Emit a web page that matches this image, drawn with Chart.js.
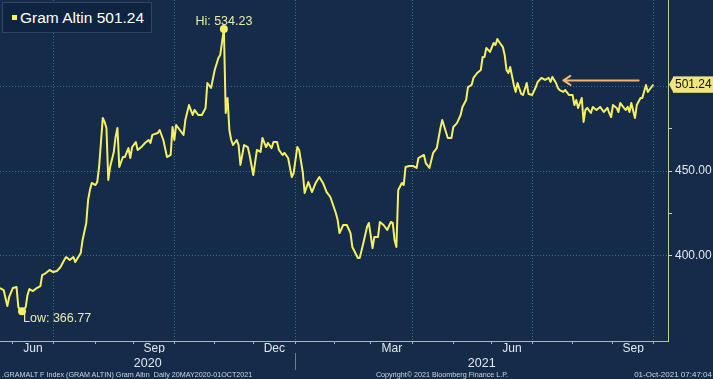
<!DOCTYPE html>
<html>
<head>
<meta charset="utf-8">
<script src="https://cdn.jsdelivr.net/npm/chart.js@4.4.0/dist/chart.umd.min.js"></script>
<style>
  html, body { margin:0; padding:0; background:#142b49; }
  #wrap { position:relative; width:713px; height:379px; overflow:hidden; background:#142b49; }
  #chart { position:absolute; left:0; top:0; }
  .legend { position:absolute; left:2px; top:2px; width:150px; height:31px; box-sizing:border-box;
    background:#0f2441; border:1px solid #2e4566; font:15.5px "Liberation Sans", Arial, sans-serif; color:#fff; }
  .legend .sw { position:absolute; left:9px; top:12px; width:5px; height:5px; background:#f6f060; }
  .legend .txt { position:absolute; left:17px; top:6px; white-space:nowrap; }
  .foot { position:absolute; top:370px; font:7.2px "Liberation Sans", Arial, sans-serif; color:#cdd5de; white-space:nowrap; line-height:10px; }
</style>
</head>
<body>
<div id="wrap">
  <canvas id="chart" width="713" height="379"></canvas>
  <div class="legend"><span class="sw"></span><span class="txt">Gram Altin 501.24</span></div>
  <div class="foot" style="left:2px">.GRAMALT F Index (GRAM ALTIN) Gram Altın&nbsp; Daily 20MAY2020-01OCT2021</div>
  <div class="foot" style="left:442px;transform:translateX(-50%)">Copyright© 2021 Bloomberg Finance L.P.</div>
  <div class="foot" style="right:1px;font-size:8px">01-Oct-2021 07:47:04</div>
</div>
<script>
// trading day number counted from 20 May 2020 (weekdays only)
const days = [1,3,5,6,8,10,11,12,13,15,16,17,19,21,23,24,26,28,30,32,34,36,37,39,41,42,45,46,48,49,50,51,53,54,55,57,58,59,60,61,63,64,65,66,68,69,71,72,73,75,76,78,80,82,83,84,87,88,90,92,94,95,96,97,99,101,102,104,106,107,109,111,113,114,116,118,120,121,123,124,125,126,127,128,130,131,132,134,136,137,139,141,143,144,146,147,149,150,152,153,155,156,158,160,161,163,164,166,167,169,171,173,175,177,179,181,184,185,186,188,190,192,193,196,197,199,201,202,204,205,207,208,210,212,214,215,216,217,218,220,221,222,224,226,228,229,232,233,235,237,239,241,242,244,245,247,248,250,252,253,255,256,258,259,261,263,264,265,266,268,270,271,272,273,275,276,277,278,279,281,282,283,285,286,288,289,291,293,294,296,298,300,301,302,304,305,306,308,309,311,313,314,315,316,318,319,320,321,323,324,326,328,330,332,333,334,335,337,338,339,341,342,343,344,345,347,348,350,351,353,354,356,357];
const prices = [380.6,379.4,369.9,375.3,380.6,381.2,369.3,367.6,366.77,369.3,376.5,380.0,378.8,380.6,381.8,388.3,389.5,391.3,390.1,390.7,393.1,397.2,399.0,397.2,399.0,396.0,401.4,409.1,419.2,432.8,438.7,442.9,441.7,443.5,452.4,481.4,479.1,475.5,444.7,452.4,461.3,470.2,475.5,452.4,458.3,458.3,463.6,457.7,464.2,467.2,462.5,464.2,466.6,468.4,466.6,471.4,472.5,474.3,468.4,458.3,459.5,476.1,468.4,477.3,474.3,471.4,480.2,489.1,483.2,486.2,483.2,483.2,487.4,502.2,499.2,509.9,517.0,518.8,534.23,484.4,493.3,474.0,468.4,465.4,468.4,465.4,453.6,465.4,464.2,459.5,447.6,462.5,461.3,469.6,464.2,466.6,463.6,467.2,467.2,462.5,459.5,460.7,457.7,446.4,448.8,464.2,462.5,449.1,437.0,443.5,437.5,442.9,446.4,442.9,437.5,434.6,425.1,420.9,413.2,418.0,418.0,413.2,404.9,398.4,398.4,407.3,416.8,419.2,404.3,410.9,410.9,419.8,418.0,415.0,419.8,419.2,409.1,404.9,438.7,442.9,441.7,452.4,453.0,453.0,451.8,457.7,459.5,454.7,451.8,460.7,463.6,475.5,480.2,473.1,469.6,469.6,476.1,478.4,483.2,488.0,492.1,499.8,501.0,505.2,508.1,509.9,517.6,517.6,523.0,520.6,525.9,524.7,528.3,526.5,523.5,518.8,509.9,508.1,511.7,501.0,496.9,502.2,495.7,495.1,502.2,495.7,495.1,499.8,502.8,505.2,504.0,505.2,502.8,505.8,502.2,499.2,498.0,496.9,498.0,495.1,495.1,489.1,492.1,487.4,493.3,479.1,486.2,487.4,484.4,488.0,486.2,488.0,485.0,487.4,484.4,482.0,489.1,487.4,485.0,490.3,487.4,486.2,488.0,485.0,490.3,481.4,489.1,493.3,493.3,501.0,496.9,499.8,501.24];

const monthStarts = ['2020-06-01','2020-07-01','2020-08-01','2020-09-01','2020-10-01','2020-11-01','2020-12-01',
  '2021-01-01','2021-02-01','2021-03-01','2021-04-01','2021-05-01','2021-06-01','2021-07-01','2021-08-01','2021-09-01','2021-10-01'];
const quarterStarts = ['2020-07-01','2020-10-01','2021-01-01','2021-04-01','2021-07-01','2021-10-01'];
const monthLabels = ['Jun','Sep','Dec','Mar','Jun','Sep'];
const labelMonths = ['2020-06','2020-09','2020-12','2021-03','2021-06','2021-09'];
const yearLabels = ['2020','2021'];
const yearBreak = '2021-01-01';

const yGridTicks = [400, 450, 500];
const yLabelTicks = [400, 450];
const yMinorTicks = [425, 475];
const xMin = 1, xMax = 365;
const yMin = 349.2, yMax = 551.4;

// orange arrow in the chart: [day, value]
const arrowFrom = [349, 503.7];
const arrowTo = [308, 503.7];

const lineColor = '#f6f060';
const gridColor = '#4a6585';
const textColor = '#e2e7ee';
const labelColor = '#ecebab';
const arrowColor = '#f4b474';
const tagColor = '#f1e57f';
const FONT = '"Liberation Sans", Arial, sans-serif';

function tradingIndex(iso){
  const start = Date.UTC(2020, 4, 20);
  const p = iso.split('-').map(Number);
  const end = Date.UTC(p[0], p[1]-1, p[2] || 1);
  let n = 0;
  for(let t=start; t<end; t+=86400000){
    const wd = new Date(t).getUTCDay();
    if(wd!==0 && wd!==6) n++;
  }
  return n;
}
function nextMonth(ym){
  const p = ym.split('-').map(Number);
  const y = p[1]===12 ? p[0]+1 : p[0];
  const m = p[1]===12 ? 1 : p[1]+1;
  return y + '-' + String(m).padStart(2,'0') + '-01';
}

const startIdx = monthStarts.map(tradingIndex);
const quarterIdx = quarterStarts.map(tradingIndex);
const labelMap = new Map();
labelMonths.forEach((ym,i)=>{
  const mid = (tradingIndex(ym+'-01') + tradingIndex(nextMonth(ym))) / 2;
  labelMap.set(mid, monthLabels[i]);
});
const breakIdx = tradingIndex(yearBreak);
const yearMap = new Map();
yearMap.set((xMin + breakIdx)/2, yearLabels[0]);
yearMap.set((breakIdx + xMax)/2, yearLabels[1]);

const lastValue = prices[prices.length-1];
let iMin = 0, iMax = 0;
prices.forEach((v,i)=>{ if(v<prices[iMin]) iMin=i; if(v>prices[iMax]) iMax=i; });
const marks = [{x:days[iMin], y:prices[iMin]}, {x:days[iMax], y:prices[iMax]}];
const lowLabel = 'Low: ' + prices[iMin].toFixed(2);
const hiLabel = 'Hi: ' + prices[iMax].toFixed(2);

const tagPad = {left:2, right:12, top:1, bottom:1};

const overlay = {
  id:'overlay',
  afterDatasetsDraw(chart){
    const {ctx, scales:{x, y}} = chart;
    const x1 = x.getPixelForValue(arrowFrom[0]), x2 = x.getPixelForValue(arrowTo[0]);
    const ay = y.getPixelForValue(arrowFrom[1]);
    ctx.save();
    ctx.strokeStyle = arrowColor; ctx.lineWidth = 2; ctx.lineCap = 'round'; ctx.lineJoin = 'round';
    ctx.beginPath();
    ctx.moveTo(x1, ay); ctx.lineTo(x2, ay);
    ctx.moveTo(x2+7, ay-4.5); ctx.lineTo(x2, ay); ctx.lineTo(x2+7, ay+4.5);
    ctx.stroke();
    const pts = chart.getDatasetMeta(1).data;
    ctx.font = '12.5px ' + FONT;
    ctx.fillStyle = labelColor;
    ctx.textBaseline = 'alphabetic';
    ctx.textAlign = 'center';
    ctx.fillText(hiLabel, pts[1].x, pts[1].y - 4);
    ctx.textAlign = 'left';
    ctx.fillText(lowLabel, pts[0].x + 1, pts[0].y + 11);
    ctx.restore();
  },
  afterDraw(chart){
    const {ctx, scales:{x, y, years}} = chart;
    // pointer of the last value tag
    const ty = y.getPixelForValue(lastValue);
    const bx = y.left + y.options.grid.tickLength + y.options.ticks.padding - tagPad.left;
    ctx.save();
    ctx.fillStyle = tagColor;
    ctx.beginPath();
    ctx.moveTo(y.left + 1, ty); ctx.lineTo(bx + 0.5, ty - 8.2); ctx.lineTo(bx + 0.5, ty + 8.2);
    ctx.closePath(); ctx.fill();
    // year separator
    const sx = Math.round(x.getPixelForValue(breakIdx)) + 0.5;
    ctx.strokeStyle = '#6c7d94'; ctx.lineWidth = 1;
    ctx.beginPath(); ctx.moveTo(sx, years.top); ctx.lineTo(sx, years.top + 17); ctx.stroke();
    ctx.restore();
  }
};

new Chart(document.getElementById('chart'), {
  type:'line',
  data:{
    datasets:[
      { data: days.map((d,i)=>({x:d, y:prices[i]})), borderColor: lineColor, borderWidth: 2,
        pointRadius: 0, tension: 0, borderJoinStyle: 'round', fill: false },
      { data: marks, showLine: false, pointRadius: 4, pointBackgroundColor: lineColor,
        pointBorderColor: lineColor, pointBorderWidth: 0 }
    ]
  },
  options:{
    responsive:false, animation:false, events:[],
    layout:{ padding:0, autoPadding:false },
    plugins:{ legend:{display:false}, tooltip:{enabled:false} },
    scales:{
      x:{
        type:'linear', position:'bottom', min:xMin, max:xMax, weight:0,
        afterBuildTicks(s){
          const vals = startIdx.concat(Array.from(labelMap.keys())).sort((a,b)=>a-b);
          s.ticks = vals.map(v=>({value:v}));
        },
        afterFit(s){ s.height = 12; s.paddingLeft = 0; s.paddingRight = 0; },
        grid:{
          drawOnChartArea:true, tickLength:3, lineWidth:1,
          color: c => (c.tick && quarterIdx.includes(c.tick.value)) ? gridColor : 'rgba(0,0,0,0)',
          tickColor: c => (c.tick && startIdx.includes(c.tick.value)) ? '#aab3bf' : 'rgba(0,0,0,0)',
          tickBorderDash: []
        },
        border:{ display:true, color:'#aeb6c2', width:1, dash:[1,2] },
        ticks:{ autoSkip:false, maxRotation:0, minRotation:0, padding:-3, color:textColor,
          font:{ family:FONT, size:12 },
          callback: v => labelMap.get(v) || '' }
      },
      years:{
        type:'linear', position:'bottom', min:xMin, max:xMax, weight:1,
        afterBuildTicks(s){ s.ticks = Array.from(yearMap.keys()).map(v=>({value:v})); },
        afterFit(s){ s.height = 26; s.paddingLeft = 0; s.paddingRight = 0; },
        grid:{ display:false }, border:{ display:false },
        ticks:{ autoSkip:false, maxRotation:0, padding:-5, color:textColor,
          font:{ family:FONT, size:12.5 }, callback: v => yearMap.get(v) || '' }
      },
      y:{
        type:'linear', position:'right', min:yMin, max:yMax,
        afterBuildTicks(s){
          s.ticks = yGridTicks.concat(yMinorTicks, [lastValue]).sort((a,b)=>a-b).map(v=>({value:v}));
        },
        afterFit(s){ s.width = 45; s.paddingTop = 0; s.paddingBottom = 0; },
        grid:{
          tickLength:4,
          color: c => (c.tick && yGridTicks.includes(c.tick.value)) ? gridColor : 'rgba(0,0,0,0)',
          tickColor: c => {
            if(!c.tick) return 'rgba(0,0,0,0)';
            if(yLabelTicks.includes(c.tick.value)) return '#e8e27c';
            if(yMinorTicks.includes(c.tick.value)) return '#c9ced6';
            return 'rgba(0,0,0,0)';
          },
          tickBorderDash: []
        },
        border:{ display:true, color:'#c3cc8c', width:1, dash:[1,2] },
        ticks:{
          autoSkip:false, padding:3,
          font:{ family:FONT, size:12 },
          color: c => (c.tick && c.tick.value===lastValue) ? '#111111' : textColor,
          showLabelBackdrop: c => !!(c.tick && c.tick.value===lastValue),
          backdropColor: tagColor,
          backdropPadding: tagPad,
          callback: v => (v===lastValue || yLabelTicks.includes(v)) ? v.toFixed(2) : ''
        }
      }
    }
  },
  plugins:[overlay]
});
</script>
</body>
</html>
